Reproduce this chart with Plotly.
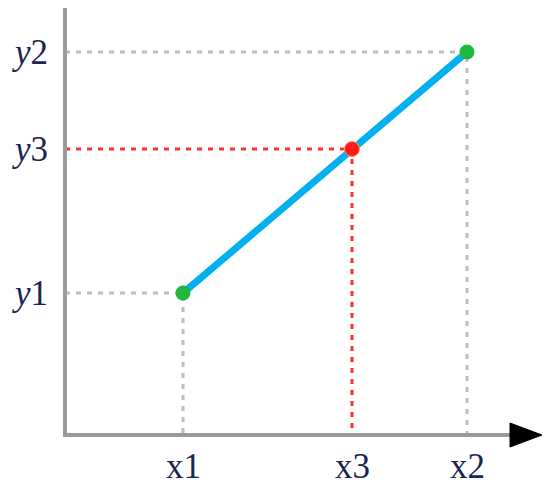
import plotly.graph_objects as go

# values measured from the origin of the axes (pixel-like units)
x_names = ["x1", "x3", "x2"]
x_vals = [118, 287, 402]
y_names = ["y1", "y3", "y2"]
y_vals = [142, 286, 383]

x_axis_end = 450
y_axis_end = 427

fig = go.Figure()

grey_dot = dict(color="#bdbdbd", width=3, dash="5px,6px")
red_dot = dict(color="#ff3030", width=3, dash="5px,6px")

# guide lines to the axes
for i, ln in zip([0, 2, 1], [grey_dot, grey_dot, red_dot]):
    fig.add_trace(go.Scatter(x=[0, x_vals[i], x_vals[i]], y=[y_vals[i], y_vals[i], 0],
                             mode="lines", line=ln, hoverinfo="skip"))

# axes
fig.add_trace(go.Scatter(x=[0, 0], y=[0, y_axis_end], mode="lines",
                         line=dict(color="#9a9a9a", width=4), hoverinfo="skip"))
fig.add_trace(go.Scatter(x=[-2, x_axis_end], y=[0, 0], mode="lines",
                         line=dict(color="#9a9a9a", width=4), hoverinfo="skip"))
fig.add_trace(go.Scatter(x=[x_axis_end - 5, x_axis_end + 27, x_axis_end - 5, x_axis_end - 5],
                         y=[-12, 0, 12, -12], mode="lines", fill="toself",
                         fillcolor="black", line=dict(color="black", width=1),
                         hoverinfo="skip"))

# the segment and its points
fig.add_trace(go.Scatter(x=[x_vals[0], x_vals[2]], y=[y_vals[0], y_vals[2]], mode="lines",
                         line=dict(color="#00b0f0", width=7)))
fig.add_trace(go.Scatter(x=[x_vals[0], x_vals[2]], y=[y_vals[0], y_vals[2]], mode="markers",
                         marker=dict(color="#1db83c", size=15, line=dict(width=0))))
fig.add_trace(go.Scatter(x=[x_vals[1]], y=[y_vals[1]], mode="markers",
                         marker=dict(color="#ff1a1a", size=15,
                                     line=dict(color="#ff9a60", width=1))))

lab_font = dict(family="Liberation Serif, Times New Roman, serif", size=35, color="#1b2452")
for name, v in zip(x_names, x_vals):
    fig.add_annotation(x=v, y=-31, text=name, showarrow=False, font=lab_font,
                       xanchor="center", yanchor="middle")
for name, v in zip(y_names, y_vals):
    fig.add_annotation(x=-15, y=v, text="<i>y</i>" + name[1], showarrow=False, font=lab_font,
                       xanchor="right", yanchor="middle")

# the page body has an 8px margin, so the ranges are shifted to compensate
fig.update_layout(
    width=550, height=493,
    margin=dict(l=0, r=0, t=0, b=0),
    paper_bgcolor="white", plot_bgcolor="white",
    showlegend=False,
    xaxis=dict(range=[-57, 493], visible=False, fixedrange=True),
    yaxis=dict(range=[-66, 427], visible=False, fixedrange=True),
)

fig.write_html("out.html")
